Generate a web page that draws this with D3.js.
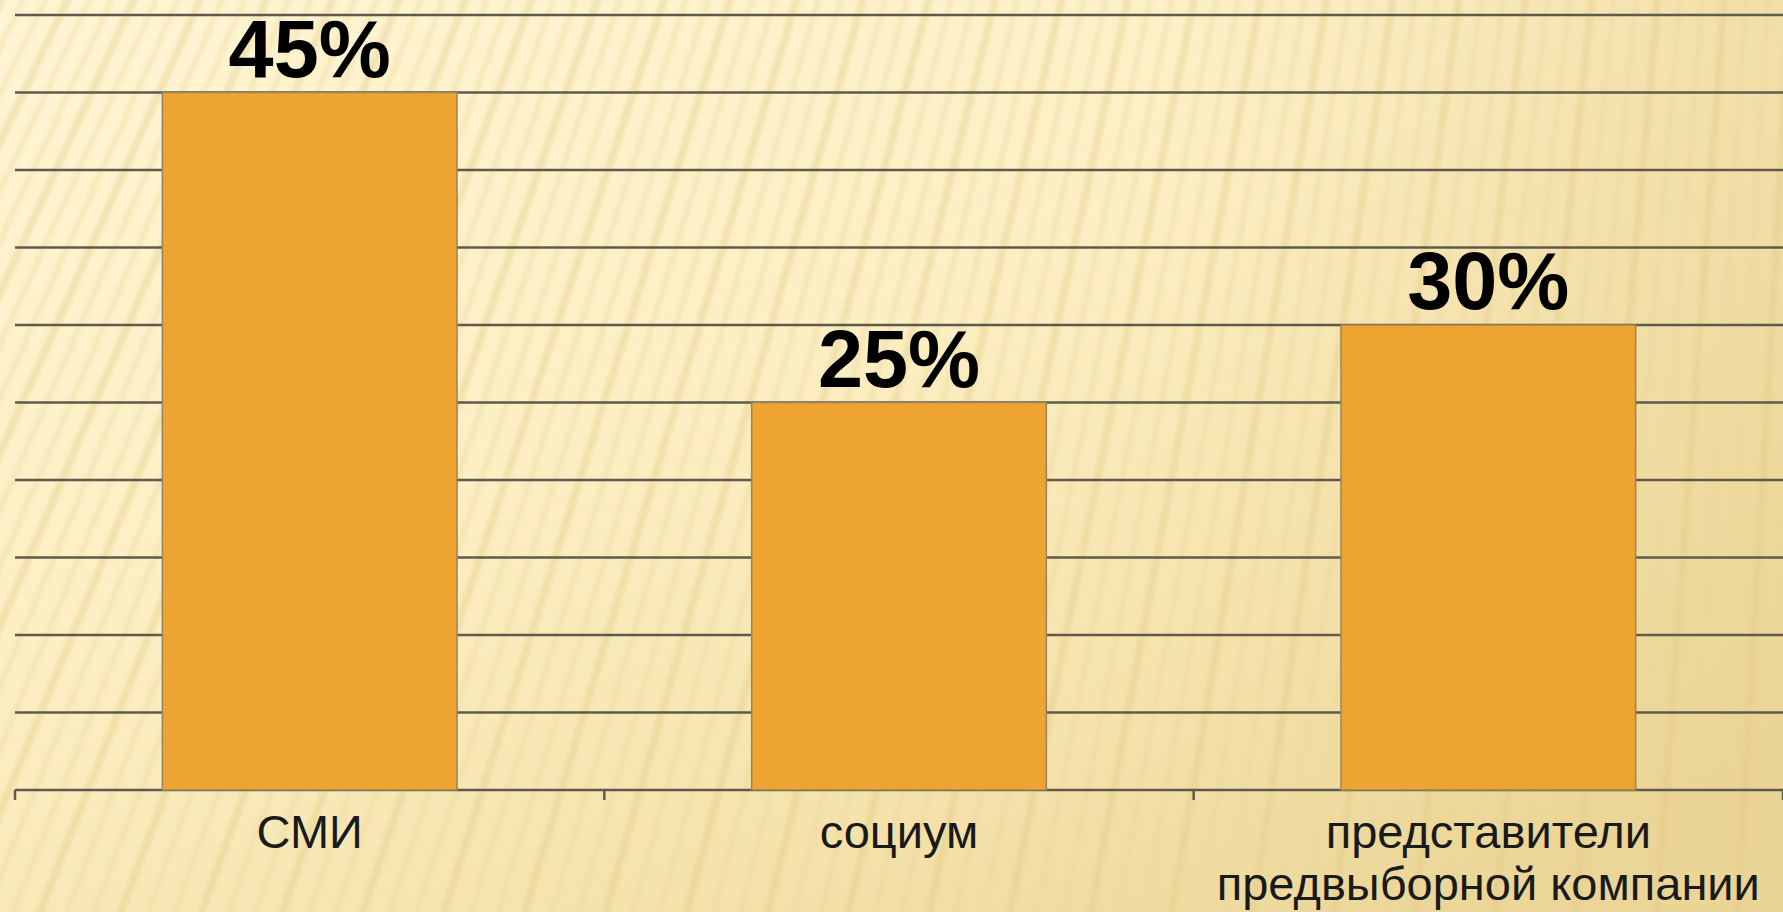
<!DOCTYPE html>
<html>
<head>
<meta charset="utf-8">
<script src="https://cdn.jsdelivr.net/npm/d3@7"></script>
<style>
  html, body { margin: 0; padding: 0; overflow: hidden; }
  svg { display: block; }
  .value-label { font-family: "Liberation Sans", Arial, sans-serif; font-weight: bold; fill: #000; }
  .cat-label { font-family: "Liberation Sans", Arial, sans-serif; fill: #1a1a1a; }
</style>
</head>
<body>
<div id="chart"></div>
<script>
// chart data
const categories = ['СМИ', 'социум', 'представители предвыборной компании'];
const categoryLines = [['СМИ'], ['социум'], ['представители', 'предвыборной компании']];
const values = [45, 25, 30];
const valueLabels = ['45%', '25%', '30%'];
const yDomain = [0, 50];

const width = 1783, height = 912;
const margin = {top: 15, right: 0, bottom: 122, left: 15};

const svg = d3.select('#chart').append('svg')
    .attr('width', width)
    .attr('height', height);

const defs = svg.append('defs');

// background: warm paper with soft diagonal stripes
const bg = defs.append('linearGradient')
    .attr('id', 'bg-grad')
    .attr('x1', 0).attr('y1', 0).attr('x2', 0.8).attr('y2', 1);
bg.append('stop').attr('offset', 0).attr('stop-color', '#fef5d4');
bg.append('stop').attr('offset', 0.45).attr('stop-color', '#fcefc4');
bg.append('stop').attr('offset', 0.8).attr('stop-color', '#f4e2aa');
bg.append('stop').attr('offset', 1).attr('stop-color', '#edd89c');

const shade = defs.append('linearGradient')
    .attr('id', 'shade-grad')
    .attr('x1', 0).attr('y1', 0).attr('x2', 1).attr('y2', 0);
shade.append('stop').attr('offset', 0.65).attr('stop-color', '#e6cf8e').attr('stop-opacity', 0);
shade.append('stop').attr('offset', 1).attr('stop-color', '#e6cf8e').attr('stop-opacity', 0.45);

defs.append('filter').attr('id', 'soft')
    .attr('x', '-20%').attr('y', '-20%').attr('width', '140%').attr('height', '140%')
  .append('feGaussianBlur').attr('stdDeviation', 2.2);

svg.append('rect').attr('width', width).attr('height', height).attr('fill', 'url(#bg-grad)');
svg.append('rect').attr('width', width).attr('height', height).attr('fill', 'url(#shade-grad)');

// stripes lean more on the left, almost upright on the right
const stripeX = d3.range(-450, width + 40, 27);
const lean = d3.scaleLinear().domain([-450, width]).range([0.5, 0.05]);
svg.append('g')
    .attr('filter', 'url(#soft)')
  .selectAll('line')
  .data(stripeX)
  .join('line')
    .attr('x1', d => d + lean(d) * height)
    .attr('y1', -10)
    .attr('x2', d => d)
    .attr('y2', height + 10)
    .attr('stroke', (d, i) => i % 3 === 0 ? '#e2c982' : '#ead596')
    .attr('stroke-width', (d, i) => i % 3 === 0 ? 7 : 5)
    .attr('stroke-opacity', 0.4);

// scales
const x = d3.scaleBand()
    .domain(categories)
    .range([margin.left, width - margin.right])
    .paddingInner(0.5)
    .paddingOuter(0.25);

const y = d3.scaleLinear()
    .domain(yDomain)
    .range([height - margin.bottom, margin.top]);

const gridColor = '#5f5b4c';

// horizontal gridlines
svg.append('g')
  .selectAll('line')
  .data(y.ticks(10))
  .join('line')
    .attr('x1', margin.left)
    .attr('x2', width)
    .attr('y1', d => y(d))
    .attr('y2', d => y(d))
    .attr('stroke', gridColor)
    .attr('stroke-width', 2.5);

// category tick marks at band boundaries
const boundaries = d3.range(categories.length + 1).map(i => margin.left + i * x.step());
svg.append('g')
  .selectAll('line')
  .data(boundaries)
  .join('line')
    .attr('x1', d => d)
    .attr('x2', d => d)
    .attr('y1', y(0))
    .attr('y2', y(0) + 10)
    .attr('stroke', gridColor)
    .attr('stroke-width', 2.5);

// bars
svg.append('g')
  .selectAll('rect')
  .data(values)
  .join('rect')
    .attr('x', (d, i) => x(categories[i]))
    .attr('y', d => y(d))
    .attr('width', x.bandwidth())
    .attr('height', d => y(0) - y(d))
    .attr('fill', '#eda431')
    .attr('stroke', '#9a8459')
    .attr('stroke-width', 1.5);

// value labels
svg.append('g')
  .selectAll('text')
  .data(values)
  .join('text')
    .attr('class', 'value-label')
    .attr('x', (d, i) => x(categories[i]) + x.bandwidth() / 2)
    .attr('y', d => y(d) - 16)
    .attr('text-anchor', 'middle')
    .style('font-size', '81px')
    .text((d, i) => valueLabels[i]);

// category labels
const catG = svg.append('g')
  .selectAll('text')
  .data(categories)
  .join('text')
    .attr('class', 'cat-label')
    .attr('text-anchor', 'middle')
    .style('font-size', '47px');

catG.selectAll('tspan')
  .data((d, i) => categoryLines[i].map(t => ({t, cx: x(d) + x.bandwidth() / 2})))
  .join('tspan')
    .attr('x', d => d.cx)
    .attr('y', (d, j) => y(0) + 58 + j * 52)
    .text(d => d.t);
</script>
</body>
</html>
